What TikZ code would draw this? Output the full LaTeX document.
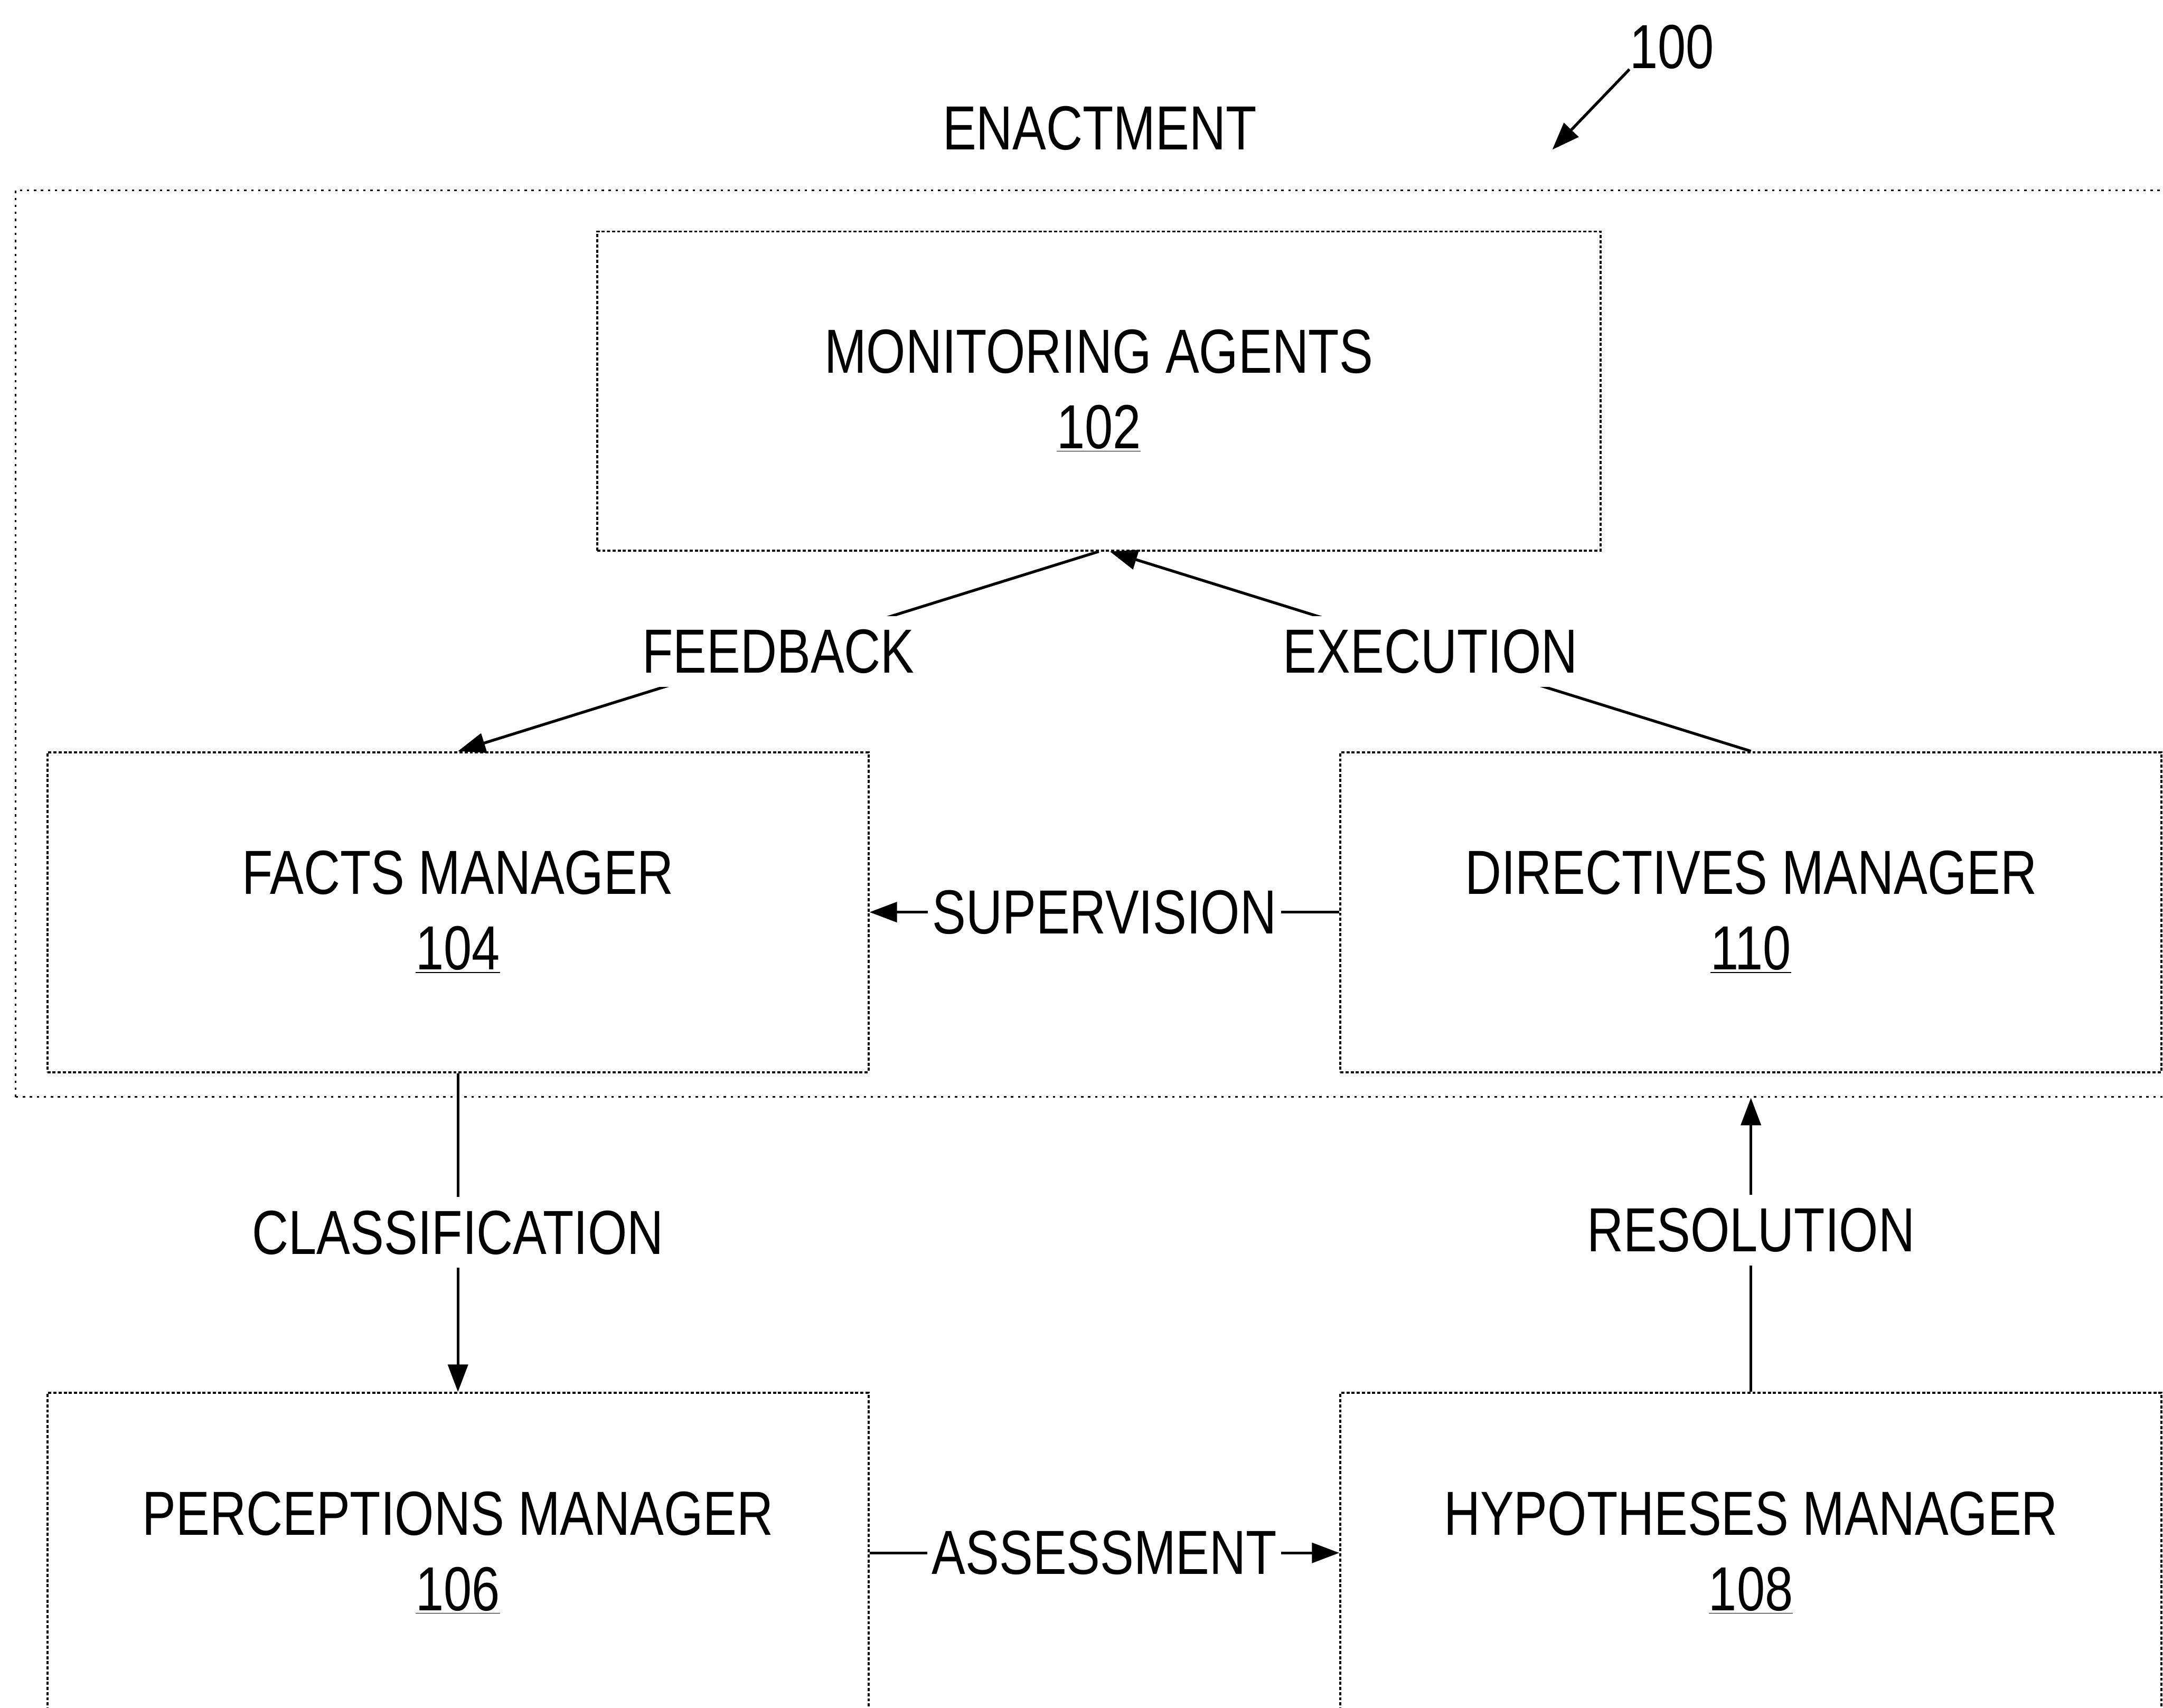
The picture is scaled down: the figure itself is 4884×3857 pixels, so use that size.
\documentclass[tikz,border=0pt]{standalone}
\usepackage{fontspec}
\setmainfont{Liberation Sans}[FakeStretch=0.81]
\usetikzlibrary{arrows.meta}
\newcommand\dfont{\fontsize{40}{48.4}\selectfont}
\begin{document}
\begin{tikzpicture}[x=0.01cm,y=-0.01cm,
  box/.style={draw, line width=1.3pt, dash pattern=on 2pt off 1.3pt, rectangle,
    minimum width=18.53cm, minimum height=7.22cm, align=center, font=\dfont, inner sep=0pt},
  enactbox/.style={draw, line width=1pt, dash pattern=on 1.5pt off 3pt, rectangle, inner sep=0pt},
  arr/.style={line width=1.8pt, -{Triangle[length=0.62cm,width=0.45cm]}},
  lbl/.style={fill=white, font=\dfont, inner xsep=0.1cm, inner ysep=0.3cm},
  txt/.style={font=\dfont, inner sep=0pt}]
\useasboundingbox (0,0) rectangle (4884,3857);
\clip (0,0) rectangle (4884,3857);

\node[enactbox, minimum width=48.83cm, minimum height=20.47cm] (enact) at (2478.5,1453.5) {};
\node[txt] (enacttxt) at (2483,290) {ENACTMENT};
\node[txt] (ref) at (3775,106) {100};
\coordinate (reftip) at (3505,338);
\draw[arr] (ref.south west) -- (reftip);

\node[box, minimum width=22.64cm, minimum height=7.2cm] (mon) at (2481,883) {MONITORING AGENTS\\\underline{102}};
\node[box] (facts) at (1034,2060) {FACTS MANAGER\\\underline{104}};
\node[box] (dir) at (3953.5,2060) {DIRECTIVES MANAGER\\\underline{110}};
\node[box] (perc) at (1034,3507) {PERCEPTIONS MANAGER\\\underline{106}};
\node[box] (hyp) at (3953.5,3507) {HYPOTHESES MANAGER\\\underline{108}};

\draw[arr] (mon.south) -- node[lbl]{FEEDBACK} (facts.north);
\draw[arr] (dir.north) -- node[lbl]{EXECUTION} ([xshift=0.25cm]mon.south);
\draw[arr] (dir.west) -- node[lbl]{SUPERVISION} (facts.east);
\draw[arr] (facts.south) -- node[lbl]{CLASSIFICATION} (perc.north);
\draw[arr] (perc.east) -- node[lbl]{ASSESSMENT} (hyp.west);
\draw[arr] (hyp.north) -- node[lbl,pos=0.55]{RESOLUTION} (hyp.north |- enact.south);
\end{tikzpicture}
\end{document}
